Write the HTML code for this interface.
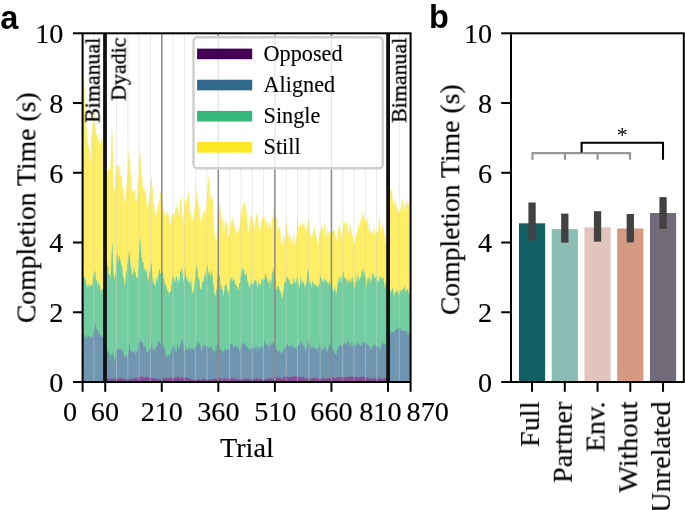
<!DOCTYPE html>
<html><head><meta charset="utf-8"><style>
html,body{margin:0;padding:0;background:#fff;}
svg{display:block;} text{will-change:transform;}
</style></head><body>
<svg width="685" height="510" viewBox="0 0 685 510">
<rect width="685" height="510" fill="#fff"/>
<g id="areas">
<path d="M82.60,382.00 L82.60,84.65 L83.10,83.10 L83.60,76.85 L84.09,76.28 L84.59,90.78 L85.09,112.23 L85.59,105.56 L86.08,123.17 L86.58,128.27 L87.08,133.54 L87.58,139.38 L88.07,142.51 L88.57,145.63 L89.07,149.97 L89.57,151.91 L90.07,153.81 L90.56,164.24 L91.06,144.52 L91.56,133.25 L92.06,133.78 L92.55,123.31 L93.05,124.55 L93.55,119.41 L94.05,110.58 L94.55,112.88 L95.04,126.24 L95.54,128.01 L96.04,134.22 L96.54,132.92 L97.03,135.63 L97.53,138.86 L98.03,140.18 L98.53,135.98 L99.03,144.81 L99.52,147.40 L100.02,143.57 L100.52,144.23 L101.02,131.57 L101.51,142.83 L102.01,138.26 L102.51,140.61 L103.01,146.76 L103.50,145.04 L104.00,147.68 L104.50,145.74 L104.50,382.00 L104.50,382.00 L104.50,173.50 L105.00,168.49 L105.50,172.86 L106.00,173.04 L106.50,175.84 L107.00,171.80 L107.50,172.79 L108.00,167.01 L108.50,170.80 L109.00,169.81 L109.50,167.08 L110.00,171.16 L110.50,167.38 L111.00,155.15 L111.50,132.30 L112.00,127.06 L112.50,134.32 L113.00,159.32 L113.50,181.87 L114.00,192.53 L114.50,188.69 L115.00,187.40 L115.50,175.06 L116.00,174.21 L116.50,164.92 L117.00,166.62 L117.50,163.35 L118.00,167.77 L118.50,165.68 L119.00,161.92 L119.50,169.22 L120.00,174.16 L120.50,175.51 L121.00,175.12 L121.50,175.09 L122.00,178.82 L122.50,188.46 L123.00,188.34 L123.50,190.02 L124.00,199.87 L124.50,201.56 L125.00,200.57 L125.50,195.82 L126.00,192.24 L126.50,187.24 L127.00,175.46 L127.50,174.27 L128.00,161.25 L128.50,152.63 L129.00,148.89 L129.50,158.69 L130.00,158.39 L130.50,173.07 L131.00,174.81 L131.50,180.72 L132.00,192.81 L132.50,190.26 L133.00,190.95 L133.50,189.91 L134.00,191.40 L134.50,188.13 L135.00,193.35 L135.50,197.86 L136.00,199.98 L136.50,202.62 L137.00,197.39 L137.50,192.69 L138.00,179.27 L138.50,179.41 L139.00,156.26 L139.50,160.14 L140.00,153.45 L140.50,154.47 L141.00,166.33 L141.50,177.65 L142.00,173.33 L142.50,184.01 L143.00,187.28 L143.50,187.30 L144.00,190.49 L144.50,188.98 L145.00,190.32 L145.50,193.33 L146.00,193.38 L146.50,197.94 L147.00,206.98 L147.50,205.28 L148.00,207.13 L148.50,201.71 L149.00,203.49 L149.50,193.02 L150.00,195.71 L150.50,182.83 L151.00,177.04 L151.50,177.28 L152.00,182.27 L152.50,188.10 L153.00,194.09 L153.50,204.40 L154.00,204.02 L154.50,211.95 L155.00,206.49 L155.50,213.91 L156.00,213.61 L156.50,217.05 L157.00,208.51 L157.50,210.49 L158.00,206.38 L158.50,203.42 L159.00,199.55 L159.50,202.09 L160.00,193.08 L160.50,192.99 L161.00,190.96 L161.50,191.39 L162.00,198.21 L162.50,207.74 L163.00,209.87 L163.50,205.94 L164.00,211.48 L164.50,212.50 L165.00,214.72 L165.50,214.94 L166.00,211.59 L166.50,217.12 L167.00,209.79 L167.50,211.83 L168.00,214.80 L168.50,214.75 L169.00,215.21 L169.50,221.31 L170.00,223.56 L170.50,224.23 L171.00,221.07 L171.50,213.41 L172.00,217.83 L172.50,213.06 L173.00,214.36 L173.50,213.57 L174.00,219.77 L174.50,212.66 L175.00,211.62 L175.50,207.11 L176.00,209.23 L176.50,205.59 L177.00,202.84 L177.50,209.16 L178.00,206.83 L178.50,216.83 L179.00,215.66 L179.50,212.94 L180.00,198.56 L180.50,198.44 L181.00,198.04 L181.50,201.38 L182.00,211.31 L182.50,217.86 L183.00,225.47 L183.50,215.54 L184.00,210.88 L184.50,197.60 L185.00,198.23 L185.50,203.16 L186.00,203.66 L186.50,199.12 L187.00,199.99 L187.50,196.43 L188.00,190.65 L188.50,191.26 L189.00,198.19 L189.50,200.64 L190.00,210.17 L190.50,214.83 L191.00,212.22 L191.50,218.73 L192.00,222.01 L192.50,218.35 L193.00,219.33 L193.50,217.42 L194.00,214.96 L194.50,208.39 L195.00,208.57 L195.50,202.53 L196.00,198.35 L196.50,192.25 L197.00,189.40 L197.50,195.95 L198.00,201.88 L198.50,206.63 L199.00,204.97 L199.50,205.47 L200.00,217.48 L200.50,219.33 L201.00,224.70 L201.50,226.84 L202.00,218.69 L202.50,215.24 L203.00,214.04 L203.50,212.56 L204.00,208.05 L204.50,211.64 L205.00,209.86 L205.50,214.32 L206.00,214.78 L206.50,203.88 L207.00,196.03 L207.50,189.06 L208.00,179.15 L208.50,174.28 L209.00,180.32 L209.50,186.44 L210.00,187.92 L210.50,198.99 L211.00,197.79 L211.50,196.24 L212.00,193.18 L212.50,199.09 L213.00,203.85 L213.50,213.36 L214.00,222.79 L214.50,231.19 L215.00,241.27 L215.50,236.43 L216.00,237.07 L216.50,241.01 L217.00,229.42 L217.50,214.33 L218.00,203.98 L218.50,208.25 L219.00,204.94 L219.50,207.47 L220.00,203.16 L220.50,210.57 L221.00,213.77 L221.50,217.09 L222.00,218.42 L222.50,219.93 L223.00,219.23 L223.50,227.22 L224.00,232.03 L224.50,227.26 L225.00,224.23 L225.50,222.05 L226.00,219.66 L226.50,223.11 L227.00,221.32 L227.50,227.09 L228.00,236.33 L228.50,236.41 L229.00,233.05 L229.50,239.24 L230.00,228.69 L230.50,223.32 L231.00,222.01 L231.50,219.13 L232.00,219.89 L232.50,216.37 L233.00,219.76 L233.50,221.88 L234.00,224.36 L234.50,225.56 L235.00,227.99 L235.50,231.03 L236.00,226.84 L236.50,235.26 L237.00,232.48 L237.50,231.36 L238.00,231.83 L238.50,231.00 L239.00,227.13 L239.50,227.59 L240.00,223.96 L240.50,213.95 L241.00,208.91 L241.50,212.52 L242.00,219.54 L242.50,204.60 L243.00,205.68 L243.50,203.88 L244.00,207.13 L244.50,201.26 L245.00,202.08 L245.50,215.91 L246.00,205.78 L246.50,210.88 L247.00,219.50 L247.50,224.76 L248.00,230.24 L248.50,229.58 L249.00,233.30 L249.50,221.27 L250.00,221.80 L250.50,214.45 L251.00,217.78 L251.50,212.22 L252.00,217.85 L252.50,218.63 L253.00,222.97 L253.50,223.41 L254.00,219.03 L254.50,232.43 L255.00,223.12 L255.50,221.77 L256.00,214.16 L256.50,213.26 L257.00,215.44 L257.50,217.52 L258.00,217.66 L258.50,225.88 L259.00,224.74 L259.50,227.60 L260.00,233.90 L260.50,228.01 L261.00,222.89 L261.50,223.35 L262.00,218.52 L262.50,217.61 L263.00,216.11 L263.50,218.97 L264.00,221.07 L264.50,219.18 L265.00,216.36 L265.50,217.96 L266.00,223.02 L266.50,221.52 L267.00,222.86 L267.50,221.44 L268.00,231.04 L268.50,227.68 L269.00,220.11 L269.50,227.25 L270.00,220.81 L270.50,225.44 L271.00,227.10 L271.50,229.15 L272.00,217.49 L272.50,219.00 L273.00,215.65 L273.50,205.69 L274.00,207.55 L274.50,210.66 L275.00,215.65 L275.50,215.07 L276.00,216.83 L276.50,217.75 L277.00,221.69 L277.50,227.58 L278.00,228.33 L278.50,228.29 L279.00,225.24 L279.50,225.30 L280.00,232.01 L280.50,230.50 L281.00,241.56 L281.50,242.34 L282.00,243.77 L282.50,245.96 L283.00,235.21 L283.50,236.28 L284.00,233.41 L284.50,244.34 L285.00,234.16 L285.50,230.01 L286.00,220.70 L286.50,223.17 L287.00,224.81 L287.50,229.30 L288.00,238.66 L288.50,233.65 L289.00,233.01 L289.50,234.59 L290.00,238.47 L290.50,237.52 L291.00,241.22 L291.50,239.28 L292.00,242.46 L292.50,242.89 L293.00,234.11 L293.50,237.66 L294.00,230.45 L294.50,247.10 L295.00,243.36 L295.50,240.59 L296.00,239.89 L296.50,235.25 L297.00,231.65 L297.50,221.34 L298.00,224.35 L298.50,225.40 L299.00,230.72 L299.50,219.46 L300.00,223.98 L300.50,224.48 L301.00,226.00 L301.50,223.40 L302.00,228.38 L302.50,223.61 L303.00,220.86 L303.50,225.85 L304.00,221.63 L304.50,224.58 L305.00,228.04 L305.50,229.35 L306.00,230.06 L306.50,230.49 L307.00,226.71 L307.50,225.48 L308.00,222.92 L308.50,217.39 L309.00,219.27 L309.50,224.40 L310.00,231.51 L310.50,233.94 L311.00,238.45 L311.50,238.78 L312.00,236.32 L312.50,235.16 L313.00,230.79 L313.50,227.78 L314.00,228.95 L314.50,226.26 L315.00,231.49 L315.50,232.72 L316.00,234.06 L316.50,239.46 L317.00,236.04 L317.50,244.47 L318.00,246.57 L318.50,239.88 L319.00,235.58 L319.50,234.24 L320.00,232.36 L320.50,230.01 L321.00,228.21 L321.50,225.33 L322.00,226.43 L322.50,228.05 L323.00,230.54 L323.50,243.03 L324.00,225.07 L324.50,222.65 L325.00,226.16 L325.50,231.16 L326.00,238.72 L326.50,235.55 L327.00,230.04 L327.50,228.59 L328.00,233.87 L328.50,231.06 L329.00,233.02 L329.50,228.59 L330.00,236.89 L330.50,231.80 L331.00,231.80 L331.50,228.81 L332.00,230.05 L332.50,232.40 L333.00,231.91 L333.50,228.88 L334.00,230.24 L334.50,230.17 L335.00,232.17 L335.50,235.52 L336.00,235.67 L336.50,239.12 L337.00,242.25 L337.50,237.54 L338.00,225.58 L338.50,228.94 L339.00,228.34 L339.50,224.33 L340.00,222.34 L340.50,231.50 L341.00,232.30 L341.50,236.63 L342.00,237.19 L342.50,238.65 L343.00,229.04 L343.50,223.05 L344.00,220.89 L344.50,222.43 L345.00,220.67 L345.50,228.73 L346.00,221.66 L346.50,221.79 L347.00,225.62 L347.50,226.83 L348.00,232.74 L348.50,232.93 L349.00,230.41 L349.50,225.98 L350.00,224.67 L350.50,226.10 L351.00,230.31 L351.50,230.48 L352.00,236.74 L352.50,235.46 L353.00,237.36 L353.50,240.72 L354.00,243.02 L354.50,243.07 L355.00,241.34 L355.50,239.11 L356.00,235.94 L356.50,231.59 L357.00,233.08 L357.50,232.85 L358.00,227.19 L358.50,225.27 L359.00,224.22 L359.50,224.36 L360.00,230.50 L360.50,217.29 L361.00,221.23 L361.50,220.49 L362.00,220.69 L362.50,210.27 L363.00,216.00 L363.50,214.12 L364.00,215.72 L364.50,220.38 L365.00,218.59 L365.50,223.92 L366.00,221.94 L366.50,218.85 L367.00,218.37 L367.50,217.36 L368.00,228.00 L368.50,229.97 L369.00,225.77 L369.50,217.96 L370.00,228.51 L370.50,232.54 L371.00,234.13 L371.50,228.01 L372.00,233.95 L372.50,234.85 L373.00,231.08 L373.50,230.97 L374.00,222.10 L374.50,229.55 L375.00,231.61 L375.50,237.29 L376.00,231.47 L376.50,234.23 L377.00,233.23 L377.50,230.62 L378.00,233.15 L378.50,225.20 L379.00,220.96 L379.50,220.72 L380.00,213.33 L380.50,227.50 L381.00,232.64 L381.50,229.53 L382.00,229.30 L382.50,224.82 L383.00,225.53 L383.50,225.44 L384.00,230.42 L384.50,235.09 L385.00,239.34 L385.50,241.75 L386.00,246.38 L386.50,240.68 L387.00,245.61 L387.00,382.00 L387.00,382.00 L387.00,189.51 L387.50,191.19 L388.00,187.84 L388.51,176.86 L389.01,190.08 L389.51,186.46 L390.01,185.35 L390.51,191.09 L391.02,190.97 L391.52,188.94 L392.02,191.00 L392.52,200.54 L393.03,197.72 L393.53,203.65 L394.03,201.13 L394.53,206.18 L395.03,200.41 L395.54,203.51 L396.04,198.29 L396.54,206.62 L397.04,211.14 L397.54,206.53 L398.05,210.17 L398.55,213.71 L399.05,213.03 L399.55,211.90 L400.06,211.42 L400.56,207.19 L401.06,206.99 L401.56,199.53 L402.06,199.04 L402.57,199.66 L403.07,203.79 L403.57,205.03 L404.07,210.37 L404.57,208.67 L405.08,205.19 L405.58,197.34 L406.08,208.11 L406.58,201.72 L407.09,199.38 L407.59,203.83 L408.09,202.13 L408.59,203.97 L409.09,205.96 L409.60,201.81 L410.10,199.78 L410.60,198.89 L410.60,382.00Z" fill="#feee66"/>
<path d="M82.60,382.00 L82.60,276.83 L83.10,278.44 L83.60,278.63 L84.09,277.70 L84.59,276.08 L85.09,279.97 L85.59,279.15 L86.08,282.19 L86.58,285.94 L87.08,283.79 L87.58,287.14 L88.07,287.88 L88.57,283.67 L89.07,283.57 L89.57,287.45 L90.07,284.98 L90.56,287.16 L91.06,282.64 L91.56,286.61 L92.06,286.40 L92.55,284.34 L93.05,272.43 L93.55,277.28 L94.05,273.56 L94.55,272.19 L95.04,269.73 L95.54,274.59 L96.04,279.70 L96.54,279.48 L97.03,280.97 L97.53,287.38 L98.03,283.00 L98.53,280.54 L99.03,285.34 L99.52,284.73 L100.02,284.64 L100.52,288.92 L101.02,293.68 L101.51,290.09 L102.01,290.07 L102.51,288.42 L103.01,289.34 L103.50,290.24 L104.00,289.36 L104.50,290.58 L104.50,382.00 L104.50,382.00 L104.50,265.18 L105.00,262.43 L105.50,263.31 L106.00,261.97 L106.50,260.93 L107.00,264.06 L107.50,266.11 L108.00,265.60 L108.50,271.39 L109.00,274.65 L109.50,274.86 L110.00,275.82 L110.50,278.00 L111.00,266.88 L111.50,255.75 L112.00,248.37 L112.50,239.98 L113.00,259.70 L113.50,274.57 L114.00,274.04 L114.50,280.95 L115.00,277.11 L115.50,275.56 L116.00,270.77 L116.50,257.64 L117.00,254.95 L117.50,253.12 L118.00,257.20 L118.50,263.02 L119.00,256.39 L119.50,255.95 L120.00,256.84 L120.50,260.38 L121.00,264.86 L121.50,265.56 L122.00,265.38 L122.50,268.67 L123.00,277.65 L123.50,277.43 L124.00,278.03 L124.50,286.38 L125.00,282.17 L125.50,281.10 L126.00,270.19 L126.50,275.20 L127.00,266.49 L127.50,263.74 L128.00,260.06 L128.50,256.19 L129.00,251.37 L129.50,251.88 L130.00,259.47 L130.50,262.97 L131.00,268.14 L131.50,270.04 L132.00,274.97 L132.50,274.64 L133.00,273.90 L133.50,270.96 L134.00,265.73 L134.50,270.10 L135.00,272.51 L135.50,272.11 L136.00,275.81 L136.50,279.43 L137.00,276.49 L137.50,277.98 L138.00,277.15 L138.50,263.59 L139.00,253.73 L139.50,242.62 L140.00,237.06 L140.50,241.46 L141.00,249.22 L141.50,259.45 L142.00,256.87 L142.50,261.84 L143.00,262.76 L143.50,262.46 L144.00,271.30 L144.50,268.85 L145.00,267.34 L145.50,273.75 L146.00,269.27 L146.50,270.12 L147.00,273.69 L147.50,280.89 L148.00,275.70 L148.50,282.13 L149.00,277.18 L149.50,271.03 L150.00,271.93 L150.50,266.93 L151.00,262.70 L151.50,263.34 L152.00,269.38 L152.50,283.82 L153.00,276.16 L153.50,282.93 L154.00,284.07 L154.50,284.51 L155.00,284.39 L155.50,287.50 L156.00,278.36 L156.50,278.59 L157.00,281.76 L157.50,281.17 L158.00,274.26 L158.50,275.73 L159.00,269.13 L159.50,268.39 L160.00,272.56 L160.50,273.70 L161.00,272.92 L161.50,271.98 L162.00,272.28 L162.50,271.67 L163.00,271.58 L163.50,277.86 L164.00,279.17 L164.50,281.93 L165.00,285.06 L165.50,283.85 L166.00,285.16 L166.50,286.74 L167.00,288.17 L167.50,291.55 L168.00,291.11 L168.50,292.17 L169.00,294.76 L169.50,292.93 L170.00,290.97 L170.50,292.62 L171.00,289.93 L171.50,284.75 L172.00,283.37 L172.50,275.87 L173.00,277.65 L173.50,275.89 L174.00,277.86 L174.50,281.82 L175.00,282.85 L175.50,280.49 L176.00,275.88 L176.50,276.50 L177.00,275.67 L177.50,286.72 L178.00,280.29 L178.50,279.70 L179.00,278.33 L179.50,285.16 L180.00,273.06 L180.50,270.15 L181.00,272.25 L181.50,269.78 L182.00,265.14 L182.50,273.13 L183.00,278.21 L183.50,283.48 L184.00,279.31 L184.50,276.66 L185.00,266.69 L185.50,269.74 L186.00,277.03 L186.50,276.27 L187.00,280.54 L187.50,281.91 L188.00,279.27 L188.50,277.87 L189.00,285.86 L189.50,282.36 L190.00,281.09 L190.50,283.52 L191.00,277.44 L191.50,284.94 L192.00,292.44 L192.50,292.71 L193.00,292.15 L193.50,290.35 L194.00,288.85 L194.50,281.14 L195.00,281.05 L195.50,273.13 L196.00,270.54 L196.50,268.11 L197.00,263.45 L197.50,268.62 L198.00,277.81 L198.50,277.49 L199.00,279.75 L199.50,279.75 L200.00,286.52 L200.50,288.20 L201.00,290.08 L201.50,289.49 L202.00,283.19 L202.50,281.69 L203.00,280.22 L203.50,281.92 L204.00,277.67 L204.50,274.55 L205.00,274.74 L205.50,271.20 L206.00,280.71 L206.50,269.86 L207.00,266.13 L207.50,264.40 L208.00,268.19 L208.50,272.89 L209.00,274.43 L209.50,273.34 L210.00,271.10 L210.50,275.69 L211.00,276.93 L211.50,268.47 L212.00,272.88 L212.50,275.64 L213.00,280.67 L213.50,287.37 L214.00,286.24 L214.50,294.99 L215.00,294.64 L215.50,296.17 L216.00,291.33 L216.50,289.67 L217.00,285.22 L217.50,276.92 L218.00,271.86 L218.50,276.04 L219.00,275.09 L219.50,274.90 L220.00,276.25 L220.50,289.29 L221.00,285.15 L221.50,283.37 L222.00,288.96 L222.50,290.00 L223.00,290.81 L223.50,296.05 L224.00,294.33 L224.50,286.47 L225.00,285.16 L225.50,285.25 L226.00,285.97 L226.50,283.08 L227.00,287.42 L227.50,290.43 L228.00,291.39 L228.50,297.04 L229.00,288.38 L229.50,289.41 L230.00,281.06 L230.50,276.68 L231.00,281.74 L231.50,278.09 L232.00,275.57 L232.50,280.17 L233.00,281.77 L233.50,278.09 L234.00,281.31 L234.50,277.52 L235.00,283.94 L235.50,284.01 L236.00,285.22 L236.50,285.34 L237.00,287.90 L237.50,286.49 L238.00,290.30 L238.50,290.44 L239.00,284.82 L239.50,283.12 L240.00,282.61 L240.50,276.75 L241.00,276.47 L241.50,271.16 L242.00,271.13 L242.50,267.50 L243.00,268.36 L243.50,272.17 L244.00,266.42 L244.50,274.27 L245.00,275.26 L245.50,274.69 L246.00,274.01 L246.50,272.62 L247.00,277.46 L247.50,281.67 L248.00,281.03 L248.50,284.17 L249.00,287.52 L249.50,288.33 L250.00,285.03 L250.50,283.76 L251.00,280.07 L251.50,286.28 L252.00,280.61 L252.50,285.05 L253.00,285.81 L253.50,283.89 L254.00,282.51 L254.50,279.92 L255.00,280.56 L255.50,280.49 L256.00,280.45 L256.50,281.86 L257.00,286.63 L257.50,288.40 L258.00,283.26 L258.50,279.41 L259.00,284.65 L259.50,283.67 L260.00,284.41 L260.50,286.09 L261.00,283.41 L261.50,281.35 L262.00,278.01 L262.50,280.04 L263.00,278.77 L263.50,279.65 L264.00,279.66 L264.50,280.07 L265.00,273.52 L265.50,274.66 L266.00,274.07 L266.50,278.72 L267.00,277.04 L267.50,279.07 L268.00,283.05 L268.50,283.00 L269.00,280.04 L269.50,281.00 L270.00,290.30 L270.50,278.63 L271.00,280.89 L271.50,284.29 L272.00,272.40 L272.50,272.91 L273.00,269.43 L273.50,266.80 L274.00,272.87 L274.50,276.51 L275.00,278.59 L275.50,279.69 L276.00,286.79 L276.50,289.58 L277.00,289.40 L277.50,285.68 L278.00,286.72 L278.50,285.77 L279.00,286.32 L279.50,290.76 L280.00,290.10 L280.50,292.55 L281.00,292.06 L281.50,296.86 L282.00,299.98 L282.50,296.75 L283.00,290.32 L283.50,294.19 L284.00,284.65 L284.50,282.71 L285.00,282.00 L285.50,283.02 L286.00,277.36 L286.50,276.73 L287.00,276.16 L287.50,277.20 L288.00,281.43 L288.50,278.99 L289.00,278.98 L289.50,279.19 L290.00,284.97 L290.50,282.83 L291.00,285.58 L291.50,283.09 L292.00,285.60 L292.50,284.66 L293.00,274.95 L293.50,286.43 L294.00,278.88 L294.50,277.65 L295.00,283.30 L295.50,281.79 L296.00,284.02 L296.50,279.22 L297.00,277.44 L297.50,275.35 L298.00,279.52 L298.50,283.83 L299.00,288.53 L299.50,284.66 L300.00,284.24 L300.50,275.07 L301.00,280.93 L301.50,285.42 L302.00,278.33 L302.50,282.72 L303.00,281.70 L303.50,281.49 L304.00,285.07 L304.50,284.07 L305.00,289.78 L305.50,286.22 L306.00,283.60 L306.50,282.63 L307.00,276.68 L307.50,270.66 L308.00,270.43 L308.50,268.69 L309.00,275.11 L309.50,281.43 L310.00,284.38 L310.50,280.59 L311.00,284.76 L311.50,289.25 L312.00,282.33 L312.50,282.81 L313.00,279.05 L313.50,284.48 L314.00,282.77 L314.50,285.54 L315.00,285.12 L315.50,286.61 L316.00,281.32 L316.50,286.93 L317.00,285.36 L317.50,286.84 L318.00,286.94 L318.50,285.96 L319.00,284.06 L319.50,284.87 L320.00,273.96 L320.50,277.28 L321.00,277.04 L321.50,279.16 L322.00,279.23 L322.50,280.71 L323.00,283.52 L323.50,282.41 L324.00,279.82 L324.50,276.75 L325.00,279.36 L325.50,282.89 L326.00,281.80 L326.50,278.61 L327.00,282.38 L327.50,282.15 L328.00,282.91 L328.50,282.86 L329.00,286.17 L329.50,281.22 L330.00,281.22 L330.50,282.71 L331.00,285.75 L331.50,285.31 L332.00,286.33 L332.50,290.15 L333.00,290.44 L333.50,294.52 L334.00,288.08 L334.50,285.70 L335.00,289.96 L335.50,289.06 L336.00,293.76 L336.50,292.95 L337.00,289.20 L337.50,282.85 L338.00,284.28 L338.50,276.99 L339.00,282.53 L339.50,277.98 L340.00,276.69 L340.50,277.17 L341.00,283.94 L341.50,281.51 L342.00,276.68 L342.50,276.49 L343.00,272.75 L343.50,271.06 L344.00,273.28 L344.50,278.01 L345.00,278.84 L345.50,277.24 L346.00,279.42 L346.50,279.81 L347.00,286.72 L347.50,277.12 L348.00,279.77 L348.50,282.38 L349.00,278.91 L349.50,279.17 L350.00,281.44 L350.50,281.45 L351.00,285.28 L351.50,278.03 L352.00,278.57 L352.50,276.07 L353.00,281.77 L353.50,281.66 L354.00,287.04 L354.50,287.23 L355.00,287.43 L355.50,282.13 L356.00,271.34 L356.50,280.56 L357.00,283.78 L357.50,279.04 L358.00,273.19 L358.50,277.68 L359.00,279.85 L359.50,281.45 L360.00,277.09 L360.50,277.66 L361.00,276.75 L361.50,273.32 L362.00,269.86 L362.50,272.35 L363.00,267.84 L363.50,268.31 L364.00,277.90 L364.50,271.67 L365.00,273.16 L365.50,278.56 L366.00,275.41 L366.50,289.51 L367.00,282.59 L367.50,279.35 L368.00,278.50 L368.50,276.21 L369.00,281.21 L369.50,277.49 L370.00,273.32 L370.50,283.68 L371.00,280.89 L371.50,279.59 L372.00,278.30 L372.50,271.42 L373.00,273.43 L373.50,277.01 L374.00,273.82 L374.50,277.81 L375.00,278.55 L375.50,277.77 L376.00,277.25 L376.50,274.98 L377.00,279.97 L377.50,286.15 L378.00,280.47 L378.50,281.65 L379.00,276.32 L379.50,282.49 L380.00,275.78 L380.50,276.95 L381.00,277.14 L381.50,277.64 L382.00,279.88 L382.50,277.59 L383.00,277.93 L383.50,277.38 L384.00,283.55 L384.50,289.61 L385.00,279.57 L385.50,286.33 L386.00,282.88 L386.50,284.18 L387.00,284.08 L387.00,382.00 L387.00,382.00 L387.00,291.44 L387.50,297.65 L388.00,291.97 L388.51,290.85 L389.01,292.30 L389.51,291.32 L390.01,291.28 L390.51,291.53 L391.02,292.44 L391.52,290.31 L392.02,288.89 L392.52,287.02 L393.03,290.59 L393.53,291.63 L394.03,296.16 L394.53,295.62 L395.03,291.92 L395.54,291.97 L396.04,293.23 L396.54,289.01 L397.04,290.60 L397.54,291.04 L398.05,292.59 L398.55,296.11 L399.05,289.49 L399.55,296.05 L400.06,291.37 L400.56,291.31 L401.06,289.57 L401.56,291.62 L402.06,288.90 L402.57,290.83 L403.07,288.61 L403.57,289.30 L404.07,289.62 L404.57,287.03 L405.08,285.55 L405.58,291.14 L406.08,291.52 L406.58,290.26 L407.09,288.51 L407.59,289.91 L408.09,287.74 L408.59,292.94 L409.09,293.69 L409.60,293.39 L410.10,292.28 L410.60,290.65 L410.60,382.00Z" fill="#72cda1"/>
<path d="M82.60,382.00 L82.60,336.76 L83.10,335.88 L83.60,336.80 L84.09,335.51 L84.59,333.87 L85.09,336.66 L85.59,337.38 L86.08,339.85 L86.58,339.25 L87.08,334.26 L87.58,337.70 L88.07,335.55 L88.57,336.69 L89.07,335.72 L89.57,335.82 L90.07,336.67 L90.56,337.09 L91.06,337.95 L91.56,337.89 L92.06,337.01 L92.55,335.09 L93.05,334.96 L93.55,331.92 L94.05,330.26 L94.55,327.41 L95.04,325.60 L95.54,322.63 L96.04,328.36 L96.54,328.78 L97.03,330.52 L97.53,328.94 L98.03,332.38 L98.53,334.42 L99.03,332.98 L99.52,332.40 L100.02,335.71 L100.52,334.36 L101.02,338.52 L101.51,335.26 L102.01,337.10 L102.51,337.65 L103.01,335.91 L103.50,337.26 L104.00,337.16 L104.50,338.71 L104.50,382.00 L104.50,382.00 L104.50,354.58 L105.00,349.59 L105.50,351.11 L106.00,348.38 L106.50,350.38 L107.00,350.13 L107.50,349.77 L108.00,352.64 L108.50,353.22 L109.00,351.72 L109.50,353.74 L110.00,356.76 L110.50,361.83 L111.00,355.22 L111.50,354.38 L112.00,354.80 L112.50,351.97 L113.00,354.31 L113.50,355.57 L114.00,358.25 L114.50,360.54 L115.00,362.12 L115.50,357.18 L116.00,355.04 L116.50,347.98 L117.00,349.18 L117.50,346.88 L118.00,349.52 L118.50,348.73 L119.00,350.39 L119.50,348.94 L120.00,347.92 L120.50,348.05 L121.00,350.30 L121.50,352.52 L122.00,350.76 L122.50,350.15 L123.00,352.63 L123.50,352.44 L124.00,355.24 L124.50,355.95 L125.00,357.83 L125.50,356.80 L126.00,356.14 L126.50,354.78 L127.00,357.69 L127.50,357.48 L128.00,353.97 L128.50,350.14 L129.00,347.57 L129.50,342.24 L130.00,346.89 L130.50,349.85 L131.00,350.56 L131.50,351.22 L132.00,350.97 L132.50,352.58 L133.00,352.21 L133.50,352.38 L134.00,352.84 L134.50,350.23 L135.00,350.59 L135.50,356.10 L136.00,352.36 L136.50,353.67 L137.00,350.75 L137.50,350.45 L138.00,350.63 L138.50,342.39 L139.00,342.97 L139.50,341.47 L140.00,337.57 L140.50,338.69 L141.00,340.73 L141.50,342.59 L142.00,343.38 L142.50,342.50 L143.00,343.47 L143.50,343.93 L144.00,349.82 L144.50,344.96 L145.00,344.85 L145.50,348.90 L146.00,345.21 L146.50,351.95 L147.00,351.80 L147.50,352.11 L148.00,351.78 L148.50,351.10 L149.00,350.63 L149.50,348.90 L150.00,348.74 L150.50,347.24 L151.00,346.04 L151.50,339.90 L152.00,348.43 L152.50,347.68 L153.00,348.94 L153.50,350.64 L154.00,349.04 L154.50,347.26 L155.00,352.75 L155.50,348.80 L156.00,347.40 L156.50,345.65 L157.00,347.10 L157.50,345.50 L158.00,339.34 L158.50,343.25 L159.00,340.09 L159.50,342.28 L160.00,342.75 L160.50,343.61 L161.00,343.61 L161.50,344.47 L162.00,349.25 L162.50,345.85 L163.00,342.62 L163.50,346.07 L164.00,346.82 L164.50,347.46 L165.00,350.00 L165.50,352.03 L166.00,357.87 L166.50,356.42 L167.00,356.78 L167.50,355.52 L168.00,354.15 L168.50,355.13 L169.00,355.98 L169.50,355.81 L170.00,355.24 L170.50,355.42 L171.00,350.75 L171.50,350.18 L172.00,348.66 L172.50,347.05 L173.00,346.57 L173.50,346.53 L174.00,343.42 L174.50,346.92 L175.00,350.42 L175.50,349.78 L176.00,350.05 L176.50,353.27 L177.00,347.95 L177.50,343.74 L178.00,346.37 L178.50,348.44 L179.00,349.97 L179.50,348.14 L180.00,346.24 L180.50,344.08 L181.00,342.74 L181.50,341.83 L182.00,339.74 L182.50,340.55 L183.00,338.31 L183.50,347.45 L184.00,352.53 L184.50,349.82 L185.00,352.98 L185.50,344.82 L186.00,347.77 L186.50,350.14 L187.00,350.00 L187.50,346.94 L188.00,349.22 L188.50,349.66 L189.00,349.22 L189.50,347.87 L190.00,346.29 L190.50,351.12 L191.00,347.78 L191.50,348.89 L192.00,349.09 L192.50,347.51 L193.00,349.69 L193.50,348.74 L194.00,350.87 L194.50,349.07 L195.00,348.13 L195.50,345.94 L196.00,345.39 L196.50,346.38 L197.00,340.39 L197.50,342.24 L198.00,345.30 L198.50,344.02 L199.00,343.33 L199.50,342.20 L200.00,344.77 L200.50,345.82 L201.00,350.67 L201.50,351.23 L202.00,349.84 L202.50,345.14 L203.00,348.97 L203.50,344.51 L204.00,344.78 L204.50,345.74 L205.00,345.12 L205.50,346.06 L206.00,345.26 L206.50,347.62 L207.00,346.49 L207.50,345.94 L208.00,346.86 L208.50,346.69 L209.00,348.67 L209.50,349.59 L210.00,346.69 L210.50,346.38 L211.00,346.96 L211.50,346.90 L212.00,350.10 L212.50,349.74 L213.00,350.83 L213.50,350.02 L214.00,351.66 L214.50,351.92 L215.00,352.83 L215.50,346.43 L216.00,351.92 L216.50,347.21 L217.00,343.06 L217.50,344.68 L218.00,344.58 L218.50,345.76 L219.00,340.14 L219.50,345.68 L220.00,349.50 L220.50,350.01 L221.00,349.75 L221.50,350.47 L222.00,349.90 L222.50,353.23 L223.00,352.93 L223.50,351.71 L224.00,349.70 L224.50,349.54 L225.00,350.02 L225.50,349.69 L226.00,347.39 L226.50,349.84 L227.00,350.13 L227.50,349.73 L228.00,350.07 L228.50,349.71 L229.00,349.71 L229.50,348.92 L230.00,346.19 L230.50,342.64 L231.00,343.80 L231.50,343.37 L232.00,343.89 L232.50,345.39 L233.00,346.27 L233.50,347.60 L234.00,347.60 L234.50,346.54 L235.00,346.42 L235.50,344.13 L236.00,347.29 L236.50,346.81 L237.00,347.72 L237.50,347.08 L238.00,348.94 L238.50,345.46 L239.00,350.35 L239.50,351.06 L240.00,351.52 L240.50,346.74 L241.00,346.86 L241.50,345.84 L242.00,341.05 L242.50,343.19 L243.00,343.61 L243.50,344.17 L244.00,342.74 L244.50,344.04 L245.00,344.12 L245.50,345.93 L246.00,346.41 L246.50,347.22 L247.00,345.88 L247.50,347.62 L248.00,348.41 L248.50,349.35 L249.00,347.07 L249.50,352.64 L250.00,349.68 L250.50,348.36 L251.00,348.63 L251.50,348.55 L252.00,348.23 L252.50,347.17 L253.00,347.43 L253.50,347.99 L254.00,349.55 L254.50,348.33 L255.00,345.24 L255.50,348.56 L256.00,348.00 L256.50,344.92 L257.00,353.75 L257.50,348.32 L258.00,348.27 L258.50,347.14 L259.00,345.05 L259.50,350.29 L260.00,351.02 L260.50,346.68 L261.00,347.24 L261.50,346.63 L262.00,346.11 L262.50,348.50 L263.00,349.56 L263.50,347.23 L264.00,344.65 L264.50,337.63 L265.00,341.69 L265.50,343.50 L266.00,344.91 L266.50,344.50 L267.00,345.22 L267.50,347.35 L268.00,342.24 L268.50,345.51 L269.00,345.77 L269.50,351.62 L270.00,344.88 L270.50,342.53 L271.00,344.97 L271.50,345.32 L272.00,343.03 L272.50,344.92 L273.00,340.73 L273.50,342.51 L274.00,341.30 L274.50,345.47 L275.00,343.87 L275.50,347.54 L276.00,349.91 L276.50,349.06 L277.00,348.80 L277.50,352.22 L278.00,352.18 L278.50,351.10 L279.00,351.17 L279.50,349.79 L280.00,350.85 L280.50,351.79 L281.00,352.68 L281.50,353.53 L282.00,352.88 L282.50,352.29 L283.00,350.78 L283.50,349.51 L284.00,351.00 L284.50,347.59 L285.00,347.87 L285.50,347.70 L286.00,345.67 L286.50,343.97 L287.00,344.36 L287.50,344.57 L288.00,344.95 L288.50,348.24 L289.00,346.27 L289.50,344.68 L290.00,345.33 L290.50,345.93 L291.00,345.92 L291.50,349.84 L292.00,344.17 L292.50,345.40 L293.00,347.00 L293.50,346.75 L294.00,345.76 L294.50,349.64 L295.00,347.58 L295.50,348.94 L296.00,346.93 L296.50,351.20 L297.00,347.42 L297.50,346.74 L298.00,344.82 L298.50,344.88 L299.00,345.45 L299.50,345.99 L300.00,344.23 L300.50,341.20 L301.00,344.07 L301.50,341.61 L302.00,348.35 L302.50,340.75 L303.00,346.27 L303.50,346.45 L304.00,343.80 L304.50,349.10 L305.00,347.20 L305.50,352.15 L306.00,350.56 L306.50,346.88 L307.00,346.02 L307.50,343.26 L308.00,340.17 L308.50,340.81 L309.00,343.95 L309.50,343.96 L310.00,344.72 L310.50,347.90 L311.00,349.28 L311.50,346.74 L312.00,344.96 L312.50,348.89 L313.00,347.71 L313.50,346.36 L314.00,347.88 L314.50,347.43 L315.00,350.72 L315.50,348.56 L316.00,348.49 L316.50,347.20 L317.00,349.81 L317.50,354.17 L318.00,347.17 L318.50,347.09 L319.00,350.12 L319.50,340.21 L320.00,345.35 L320.50,348.36 L321.00,345.97 L321.50,351.41 L322.00,350.51 L322.50,347.67 L323.00,349.69 L323.50,349.24 L324.00,349.04 L324.50,347.12 L325.00,347.13 L325.50,347.84 L326.00,349.39 L326.50,350.05 L327.00,353.39 L327.50,352.15 L328.00,348.81 L328.50,348.73 L329.00,346.61 L329.50,344.43 L330.00,343.23 L330.50,347.22 L331.00,344.55 L331.50,346.49 L332.00,350.47 L332.50,348.38 L333.00,351.65 L333.50,348.95 L334.00,351.80 L334.50,352.38 L335.00,352.77 L335.50,355.33 L336.00,352.39 L336.50,355.80 L337.00,350.38 L337.50,350.21 L338.00,348.10 L338.50,345.80 L339.00,346.33 L339.50,345.64 L340.00,346.57 L340.50,341.87 L341.00,349.56 L341.50,345.82 L342.00,344.83 L342.50,345.70 L343.00,345.08 L343.50,343.75 L344.00,342.25 L344.50,342.50 L345.00,344.05 L345.50,342.57 L346.00,344.55 L346.50,344.76 L347.00,342.48 L347.50,343.43 L348.00,339.95 L348.50,341.23 L349.00,342.65 L349.50,343.59 L350.00,346.08 L350.50,345.16 L351.00,343.82 L351.50,340.66 L352.00,347.29 L352.50,346.09 L353.00,339.87 L353.50,346.49 L354.00,344.26 L354.50,342.89 L355.00,346.42 L355.50,345.03 L356.00,345.45 L356.50,345.62 L357.00,343.90 L357.50,340.48 L358.00,344.38 L358.50,343.34 L359.00,345.01 L359.50,342.84 L360.00,345.51 L360.50,346.98 L361.00,344.85 L361.50,344.88 L362.00,344.47 L362.50,339.01 L363.00,343.22 L363.50,343.18 L364.00,341.25 L364.50,343.92 L365.00,342.58 L365.50,342.79 L366.00,341.98 L366.50,342.78 L367.00,344.60 L367.50,344.12 L368.00,344.97 L368.50,344.99 L369.00,345.85 L369.50,348.40 L370.00,346.56 L370.50,348.38 L371.00,349.90 L371.50,346.19 L372.00,350.34 L372.50,345.71 L373.00,343.93 L373.50,345.60 L374.00,345.77 L374.50,344.72 L375.00,346.83 L375.50,342.68 L376.00,345.28 L376.50,346.31 L377.00,347.92 L377.50,346.22 L378.00,346.26 L378.50,346.50 L379.00,348.05 L379.50,349.03 L380.00,350.97 L380.50,348.60 L381.00,346.45 L381.50,346.42 L382.00,340.98 L382.50,344.37 L383.00,343.11 L383.50,344.19 L384.00,343.13 L384.50,344.21 L385.00,346.13 L385.50,341.54 L386.00,344.26 L386.50,344.94 L387.00,346.55 L387.00,382.00 L387.00,382.00 L387.00,331.22 L387.50,333.32 L388.00,331.09 L388.51,331.36 L389.01,332.14 L389.51,332.47 L390.01,333.80 L390.51,333.72 L391.02,330.95 L391.52,332.58 L392.02,331.99 L392.52,331.13 L393.03,332.35 L393.53,333.22 L394.03,331.02 L394.53,333.22 L395.03,328.90 L395.54,328.85 L396.04,330.82 L396.54,328.85 L397.04,329.33 L397.54,328.70 L398.05,326.75 L398.55,328.95 L399.05,328.66 L399.55,326.02 L400.06,326.64 L400.56,329.32 L401.06,331.04 L401.56,331.22 L402.06,330.18 L402.57,330.46 L403.07,330.91 L403.57,329.90 L404.07,331.38 L404.57,330.57 L405.08,330.29 L405.58,331.45 L406.08,329.18 L406.58,331.72 L407.09,332.43 L407.59,332.26 L408.09,335.63 L408.59,333.68 L409.09,332.23 L409.60,333.91 L410.10,331.79 L410.60,333.16 L410.60,382.00Z" fill="#6f95b0"/>
<path d="M104.50,382.00 L104.50,378.48 L105.00,378.89 L105.50,380.74 L106.00,379.12 L106.50,379.06 L107.00,379.60 L107.50,378.92 L108.00,379.86 L108.50,377.45 L109.00,378.95 L109.50,378.85 L110.00,379.12 L110.50,380.67 L111.00,377.60 L111.50,378.95 L112.00,379.24 L112.50,379.36 L113.00,379.42 L113.50,378.74 L114.00,378.34 L114.50,379.40 L115.00,377.83 L115.50,377.38 L116.00,378.01 L116.50,378.35 L117.00,379.50 L117.50,378.53 L118.00,378.18 L118.50,378.17 L119.00,378.48 L119.50,378.41 L120.00,378.08 L120.50,377.40 L121.00,377.88 L121.50,378.92 L122.00,378.68 L122.50,379.06 L123.00,377.23 L123.50,379.57 L124.00,378.55 L124.50,379.83 L125.00,378.92 L125.50,378.91 L126.00,379.47 L126.50,379.11 L127.00,379.24 L127.50,378.40 L128.00,379.23 L128.50,378.96 L129.00,378.13 L129.50,378.50 L130.00,379.28 L130.50,378.84 L131.00,379.53 L131.50,378.20 L132.00,376.87 L132.50,381.69 L133.00,378.43 L133.50,378.61 L134.00,378.01 L134.50,377.91 L135.00,378.18 L135.50,378.69 L136.00,376.66 L136.50,378.64 L137.00,380.13 L137.50,377.87 L138.00,377.51 L138.50,377.17 L139.00,376.93 L139.50,377.15 L140.00,377.99 L140.50,374.47 L141.00,377.82 L141.50,377.59 L142.00,375.53 L142.50,376.28 L143.00,377.78 L143.50,377.68 L144.00,377.20 L144.50,378.21 L145.00,377.01 L145.50,377.45 L146.00,376.75 L146.50,377.81 L147.00,376.67 L147.50,377.12 L148.00,378.17 L148.50,377.78 L149.00,378.04 L149.50,378.22 L150.00,378.04 L150.50,377.42 L151.00,378.27 L151.50,377.19 L152.00,377.71 L152.50,378.04 L153.00,377.31 L153.50,377.30 L154.00,378.43 L154.50,378.63 L155.00,378.13 L155.50,378.20 L156.00,377.88 L156.50,378.45 L157.00,378.56 L157.50,379.64 L158.00,377.12 L158.50,379.54 L159.00,380.87 L159.50,378.45 L160.00,379.04 L160.50,379.25 L161.00,378.82 L161.50,378.27 L162.00,378.70 L162.50,379.29 L163.00,377.59 L163.50,378.40 L164.00,376.63 L164.50,379.00 L165.00,378.76 L165.50,376.91 L166.00,378.60 L166.50,378.45 L167.00,377.36 L167.50,378.13 L168.00,378.33 L168.50,377.79 L169.00,377.98 L169.50,379.66 L170.00,378.08 L170.50,377.86 L171.00,376.67 L171.50,376.98 L172.00,378.42 L172.50,378.08 L173.00,378.29 L173.50,377.72 L174.00,377.67 L174.50,377.58 L175.00,377.86 L175.50,377.28 L176.00,377.52 L176.50,377.49 L177.00,377.76 L177.50,377.08 L178.00,375.87 L178.50,376.59 L179.00,377.00 L179.50,378.30 L180.00,377.92 L180.50,378.00 L181.00,377.55 L181.50,376.74 L182.00,377.60 L182.50,378.38 L183.00,377.67 L183.50,377.84 L184.00,377.52 L184.50,377.01 L185.00,377.87 L185.50,377.77 L186.00,377.67 L186.50,377.60 L187.00,378.34 L187.50,377.89 L188.00,378.33 L188.50,377.96 L189.00,378.82 L189.50,378.35 L190.00,378.58 L190.50,379.78 L191.00,379.10 L191.50,379.23 L192.00,378.74 L192.50,379.70 L193.00,378.99 L193.50,381.35 L194.00,380.21 L194.50,379.63 L195.00,380.12 L195.50,379.54 L196.00,379.82 L196.50,378.66 L197.00,381.57 L197.50,379.94 L198.00,378.69 L198.50,378.97 L199.00,379.46 L199.50,379.77 L200.00,378.65 L200.50,380.75 L201.00,379.09 L201.50,381.89 L202.00,379.66 L202.50,379.23 L203.00,379.05 L203.50,378.29 L204.00,378.22 L204.50,379.35 L205.00,379.61 L205.50,380.10 L206.00,378.96 L206.50,380.29 L207.00,378.81 L207.50,380.28 L208.00,380.10 L208.50,378.39 L209.00,379.76 L209.50,379.31 L210.00,379.29 L210.50,379.63 L211.00,379.02 L211.50,378.97 L212.00,378.78 L212.50,379.68 L213.00,379.84 L213.50,378.27 L214.00,379.34 L214.50,378.55 L215.00,378.31 L215.50,378.34 L216.00,378.94 L216.50,378.51 L217.00,378.42 L217.50,377.89 L218.00,378.56 L218.50,379.24 L219.00,377.00 L219.50,378.74 L220.00,378.88 L220.50,377.43 L221.00,378.42 L221.50,379.66 L222.00,381.23 L222.50,379.37 L223.00,378.06 L223.50,379.09 L224.00,378.59 L224.50,378.03 L225.00,378.60 L225.50,379.67 L226.00,379.39 L226.50,378.45 L227.00,377.41 L227.50,379.48 L228.00,380.58 L228.50,378.55 L229.00,378.07 L229.50,378.56 L230.00,378.78 L230.50,378.50 L231.00,378.34 L231.50,378.16 L232.00,378.29 L232.50,377.30 L233.00,378.24 L233.50,379.98 L234.00,376.33 L234.50,379.02 L235.00,379.19 L235.50,378.60 L236.00,378.86 L236.50,378.30 L237.00,379.01 L237.50,379.10 L238.00,379.18 L238.50,378.83 L239.00,380.46 L239.50,379.63 L240.00,378.99 L240.50,379.18 L241.00,378.60 L241.50,380.19 L242.00,379.17 L242.50,379.88 L243.00,378.71 L243.50,380.93 L244.00,378.18 L244.50,379.12 L245.00,378.25 L245.50,378.57 L246.00,379.57 L246.50,378.02 L247.00,379.03 L247.50,378.66 L248.00,379.90 L248.50,378.22 L249.00,379.04 L249.50,379.99 L250.00,379.56 L250.50,379.60 L251.00,381.58 L251.50,377.57 L252.00,379.53 L252.50,379.68 L253.00,379.69 L253.50,379.62 L254.00,378.21 L254.50,378.29 L255.00,379.75 L255.50,379.44 L256.00,378.94 L256.50,377.05 L257.00,379.34 L257.50,378.33 L258.00,379.69 L258.50,379.08 L259.00,379.84 L259.50,378.36 L260.00,379.29 L260.50,378.39 L261.00,379.77 L261.50,379.37 L262.00,378.87 L262.50,380.74 L263.00,379.49 L263.50,378.98 L264.00,379.88 L264.50,378.99 L265.00,380.34 L265.50,378.79 L266.00,381.01 L266.50,377.85 L267.00,379.35 L267.50,378.66 L268.00,378.84 L268.50,379.08 L269.00,377.52 L269.50,378.38 L270.00,377.92 L270.50,379.15 L271.00,378.28 L271.50,378.71 L272.00,378.45 L272.50,378.23 L273.00,379.78 L273.50,378.60 L274.00,378.76 L274.50,378.83 L275.00,379.08 L275.50,378.06 L276.00,377.30 L276.50,378.24 L277.00,377.59 L277.50,376.32 L278.00,379.08 L278.50,378.14 L279.00,377.79 L279.50,377.09 L280.00,378.17 L280.50,377.71 L281.00,377.00 L281.50,379.41 L282.00,378.76 L282.50,378.46 L283.00,377.90 L283.50,377.26 L284.00,376.86 L284.50,377.28 L285.00,376.32 L285.50,377.08 L286.00,375.71 L286.50,374.74 L287.00,377.02 L287.50,376.49 L288.00,376.98 L288.50,377.16 L289.00,377.33 L289.50,376.85 L290.00,377.37 L290.50,376.92 L291.00,377.79 L291.50,377.59 L292.00,375.32 L292.50,376.35 L293.00,376.56 L293.50,376.31 L294.00,376.11 L294.50,377.48 L295.00,375.01 L295.50,376.13 L296.00,377.12 L296.50,376.24 L297.00,376.33 L297.50,378.33 L298.00,377.30 L298.50,376.90 L299.00,376.31 L299.50,376.79 L300.00,379.08 L300.50,377.81 L301.00,376.29 L301.50,377.79 L302.00,377.41 L302.50,377.99 L303.00,377.45 L303.50,377.08 L304.00,376.10 L304.50,377.72 L305.00,378.82 L305.50,378.97 L306.00,378.37 L306.50,378.50 L307.00,377.58 L307.50,377.93 L308.00,379.03 L308.50,380.16 L309.00,378.06 L309.50,378.59 L310.00,379.28 L310.50,381.04 L311.00,377.85 L311.50,378.36 L312.00,378.02 L312.50,378.12 L313.00,378.12 L313.50,377.84 L314.00,376.32 L314.50,378.61 L315.00,378.46 L315.50,378.83 L316.00,377.52 L316.50,377.77 L317.00,378.32 L317.50,379.37 L318.00,378.17 L318.50,377.69 L319.00,378.33 L319.50,379.61 L320.00,378.97 L320.50,379.13 L321.00,378.12 L321.50,377.87 L322.00,379.00 L322.50,378.73 L323.00,378.93 L323.50,378.11 L324.00,377.94 L324.50,377.84 L325.00,379.02 L325.50,379.30 L326.00,378.09 L326.50,379.05 L327.00,378.12 L327.50,378.22 L328.00,378.36 L328.50,377.83 L329.00,377.94 L329.50,377.94 L330.00,377.93 L330.50,378.26 L331.00,377.29 L331.50,378.60 L332.00,377.49 L332.50,377.96 L333.00,378.17 L333.50,377.20 L334.00,377.76 L334.50,377.89 L335.00,377.82 L335.50,378.58 L336.00,378.13 L336.50,376.80 L337.00,378.17 L337.50,377.56 L338.00,377.69 L338.50,376.74 L339.00,377.30 L339.50,377.57 L340.00,377.74 L340.50,377.71 L341.00,376.65 L341.50,377.69 L342.00,377.10 L342.50,377.19 L343.00,377.59 L343.50,376.74 L344.00,377.83 L344.50,377.62 L345.00,377.35 L345.50,376.66 L346.00,376.85 L346.50,376.23 L347.00,377.24 L347.50,377.70 L348.00,376.20 L348.50,377.23 L349.00,377.13 L349.50,375.37 L350.00,377.88 L350.50,376.84 L351.00,376.52 L351.50,375.29 L352.00,377.35 L352.50,376.66 L353.00,376.91 L353.50,376.36 L354.00,377.04 L354.50,376.77 L355.00,377.45 L355.50,377.14 L356.00,377.25 L356.50,376.54 L357.00,375.77 L357.50,377.74 L358.00,378.10 L358.50,377.14 L359.00,378.00 L359.50,377.26 L360.00,377.09 L360.50,376.87 L361.00,376.78 L361.50,376.96 L362.00,376.52 L362.50,376.90 L363.00,377.00 L363.50,375.43 L364.00,376.86 L364.50,376.78 L365.00,377.38 L365.50,377.85 L366.00,377.55 L366.50,377.72 L367.00,377.75 L367.50,377.32 L368.00,377.64 L368.50,378.56 L369.00,379.26 L369.50,377.53 L370.00,376.02 L370.50,379.65 L371.00,378.92 L371.50,378.34 L372.00,378.77 L372.50,378.32 L373.00,379.14 L373.50,377.79 L374.00,378.13 L374.50,378.44 L375.00,377.72 L375.50,378.52 L376.00,377.84 L376.50,378.51 L377.00,378.73 L377.50,378.11 L378.00,380.42 L378.50,378.37 L379.00,378.61 L379.50,376.40 L380.00,377.36 L380.50,378.51 L381.00,379.43 L381.50,378.37 L382.00,379.19 L382.50,376.99 L383.00,379.07 L383.50,378.99 L384.00,378.37 L384.50,378.11 L385.00,378.50 L385.50,377.79 L386.00,378.43 L386.50,378.48 L387.00,378.25 L387.00,382.00Z" fill="#874c93"/>
<line x1="93.91" y1="33.3" x2="93.91" y2="382" stroke="#d0d0d0" stroke-opacity="0.45" stroke-width="1"/>
<line x1="116.53" y1="33.3" x2="116.53" y2="382" stroke="#d0d0d0" stroke-opacity="0.45" stroke-width="1"/>
<line x1="127.84" y1="33.3" x2="127.84" y2="382" stroke="#d0d0d0" stroke-opacity="0.45" stroke-width="1"/>
<line x1="139.15" y1="33.3" x2="139.15" y2="382" stroke="#d0d0d0" stroke-opacity="0.45" stroke-width="1"/>
<line x1="150.46" y1="33.3" x2="150.46" y2="382" stroke="#d0d0d0" stroke-opacity="0.45" stroke-width="1"/>
<line x1="173.08" y1="33.3" x2="173.08" y2="382" stroke="#d0d0d0" stroke-opacity="0.45" stroke-width="1"/>
<line x1="184.39" y1="33.3" x2="184.39" y2="382" stroke="#d0d0d0" stroke-opacity="0.45" stroke-width="1"/>
<line x1="195.70" y1="33.3" x2="195.70" y2="382" stroke="#d0d0d0" stroke-opacity="0.45" stroke-width="1"/>
<line x1="207.01" y1="33.3" x2="207.01" y2="382" stroke="#d0d0d0" stroke-opacity="0.45" stroke-width="1"/>
<line x1="229.63" y1="33.3" x2="229.63" y2="382" stroke="#d0d0d0" stroke-opacity="0.45" stroke-width="1"/>
<line x1="240.94" y1="33.3" x2="240.94" y2="382" stroke="#d0d0d0" stroke-opacity="0.45" stroke-width="1"/>
<line x1="252.26" y1="33.3" x2="252.26" y2="382" stroke="#d0d0d0" stroke-opacity="0.45" stroke-width="1"/>
<line x1="263.57" y1="33.3" x2="263.57" y2="382" stroke="#d0d0d0" stroke-opacity="0.45" stroke-width="1"/>
<line x1="286.19" y1="33.3" x2="286.19" y2="382" stroke="#d0d0d0" stroke-opacity="0.45" stroke-width="1"/>
<line x1="297.50" y1="33.3" x2="297.50" y2="382" stroke="#d0d0d0" stroke-opacity="0.45" stroke-width="1"/>
<line x1="308.81" y1="33.3" x2="308.81" y2="382" stroke="#d0d0d0" stroke-opacity="0.45" stroke-width="1"/>
<line x1="320.12" y1="33.3" x2="320.12" y2="382" stroke="#d0d0d0" stroke-opacity="0.45" stroke-width="1"/>
<line x1="342.74" y1="33.3" x2="342.74" y2="382" stroke="#d0d0d0" stroke-opacity="0.45" stroke-width="1"/>
<line x1="354.05" y1="33.3" x2="354.05" y2="382" stroke="#d0d0d0" stroke-opacity="0.45" stroke-width="1"/>
<line x1="365.36" y1="33.3" x2="365.36" y2="382" stroke="#d0d0d0" stroke-opacity="0.45" stroke-width="1"/>
<line x1="376.67" y1="33.3" x2="376.67" y2="382" stroke="#d0d0d0" stroke-opacity="0.45" stroke-width="1"/>
<line x1="399.29" y1="33.3" x2="399.29" y2="382" stroke="#d0d0d0" stroke-opacity="0.45" stroke-width="1"/>
<line x1="161.77" y1="33.3" x2="161.77" y2="382" stroke="#8a8a8a" stroke-width="1.5"/>
<line x1="218.32" y1="33.3" x2="218.32" y2="382" stroke="#8a8a8a" stroke-width="1.5"/>
<line x1="274.88" y1="33.3" x2="274.88" y2="382" stroke="#8a8a8a" stroke-width="1.5"/>
<line x1="331.43" y1="33.3" x2="331.43" y2="382" stroke="#8a8a8a" stroke-width="1.5"/>
<line x1="105.00" y1="33.3" x2="105.00" y2="382" stroke="#111" stroke-width="3.8"/>
<line x1="388.10" y1="33.3" x2="388.10" y2="382" stroke="#111" stroke-width="3.8"/>
</g>
<!-- group labels -->
<g font-family="Liberation Serif" font-size="21.9" stroke="#000" stroke-width="0.3">
<text transform="translate(99.5,122.8) rotate(-90)">Bimanual</text>
<text transform="translate(125.6,100.8) rotate(-90)">Dyadic</text>
<text transform="translate(406.2,122.8) rotate(-90)">Bimanual</text>
</g>
<rect x="193.5" y="37.2" width="189.3" height="131.1" rx="4" ry="4" fill="#fff" fill-opacity="0.8" stroke="#cfcfcf" stroke-width="2.4"/>
<rect x="197.1" y="48.60" width="55.1" height="10.6" fill="#440154"/>
<text x="263.6" y="61.30" font-family="Liberation Serif" font-size="22.2" stroke="#000" stroke-width="0.12">Opposed</text>
<rect x="197.1" y="79.75" width="55.1" height="10.6" fill="#31688e"/>
<text x="263.6" y="92.30" font-family="Liberation Serif" font-size="22.2" stroke="#000" stroke-width="0.12">Aligned</text>
<rect x="197.1" y="110.90" width="55.1" height="10.6" fill="#35b779"/>
<text x="263.6" y="123.30" font-family="Liberation Serif" font-size="22.2" stroke="#000" stroke-width="0.12">Single</text>
<rect x="197.1" y="142.05" width="55.1" height="10.6" fill="#fde725"/>
<text x="263.6" y="154.30" font-family="Liberation Serif" font-size="22.2" stroke="#000" stroke-width="0.12">Still</text>
<!-- panel a spines -->
<g stroke="#000" stroke-width="2" fill="none" stroke-linecap="butt">
<rect x="82.6" y="33.3" width="328" height="348.7"/>
</g>
<g stroke="#000" stroke-width="2">
<line x1="73" y1="382.00" x2="82.6" y2="382.00"/><line x1="73" y1="312.26" x2="82.6" y2="312.26"/><line x1="73" y1="242.52" x2="82.6" y2="242.52"/><line x1="73" y1="172.78" x2="82.6" y2="172.78"/><line x1="73" y1="103.04" x2="82.6" y2="103.04"/><line x1="73" y1="33.30" x2="82.6" y2="33.30"/>
<line x1="82.60" y1="382" x2="82.60" y2="391.8"/><line x1="105.22" y1="382" x2="105.22" y2="391.8"/><line x1="161.77" y1="382" x2="161.77" y2="391.8"/><line x1="218.32" y1="382" x2="218.32" y2="391.8"/><line x1="274.88" y1="382" x2="274.88" y2="391.8"/><line x1="331.43" y1="382" x2="331.43" y2="391.8"/><line x1="387.98" y1="382" x2="387.98" y2="391.8"/><line x1="410.60" y1="382" x2="410.60" y2="391.8"/>
</g>
<g font-family="Liberation Serif" font-size="28.2" fill="#000" stroke="#000" stroke-width="0.15">
<text x="63.4" y="391.80" text-anchor="end">0</text><text x="63.4" y="322.06" text-anchor="end">2</text><text x="63.4" y="252.32" text-anchor="end">4</text><text x="63.4" y="182.58" text-anchor="end">6</text><text x="63.4" y="112.84" text-anchor="end">8</text><text x="63.4" y="43.10" text-anchor="end">10</text>
<text x="70.0" y="420.5" text-anchor="middle">0</text>
<text x="104.9" y="420.5" text-anchor="middle">60</text>
<text x="161.8" y="420.5" text-anchor="middle">210</text>
<text x="218.4" y="420.5" text-anchor="middle">360</text>
<text x="275.3" y="420.5" text-anchor="middle">510</text>
<text x="331.5" y="420.5" text-anchor="middle">660</text>
<text x="380.4" y="420.5" text-anchor="middle">810</text>
<text x="427.7" y="420.5" text-anchor="middle">870</text>
<text x="246.9" y="456.6" text-anchor="middle">Trial</text>
<text transform="translate(35.4,207.8) rotate(-90)" text-anchor="middle" font-size="27.7">Completion Time (s)</text>
</g>
<text x="0.3" y="28.7" font-family="Liberation Sans" font-weight="bold" font-size="32.5">a</text>
<text x="428.9" y="28.2" font-family="Liberation Sans" font-weight="bold" font-size="32.5">b</text>
<rect x="518.95" y="223.30" width="26.2" height="158.70" fill="#135f66"/>
<rect x="551.70" y="229.10" width="26.2" height="152.90" fill="#8bbdb5"/>
<rect x="584.45" y="227.30" width="26.2" height="154.70" fill="#e1c5bd"/>
<rect x="617.20" y="228.50" width="26.2" height="153.50" fill="#d69a82"/>
<rect x="649.95" y="213.00" width="26.2" height="169.00" fill="#736a7a"/>
<line x1="532.05" y1="202.50" x2="532.05" y2="240.60" stroke="#424242" stroke-width="7.3"/>
<line x1="564.80" y1="213.60" x2="564.80" y2="242.70" stroke="#424242" stroke-width="7.3"/>
<line x1="597.55" y1="211.20" x2="597.55" y2="241.70" stroke="#424242" stroke-width="7.3"/>
<line x1="630.30" y1="214.00" x2="630.30" y2="242.40" stroke="#424242" stroke-width="7.3"/>
<line x1="663.05" y1="197.10" x2="663.05" y2="228.80" stroke="#424242" stroke-width="7.3"/>
<rect x="511" y="33.3" width="172.8" height="348.7" fill="none" stroke="#000" stroke-width="2"/>
<g stroke="#000" stroke-width="2"><line x1="501.2" y1="382.00" x2="511" y2="382.00"/><line x1="501.2" y1="312.26" x2="511" y2="312.26"/><line x1="501.2" y1="242.52" x2="511" y2="242.52"/><line x1="501.2" y1="172.78" x2="511" y2="172.78"/><line x1="501.2" y1="103.04" x2="511" y2="103.04"/><line x1="501.2" y1="33.30" x2="511" y2="33.30"/><line x1="532.05" y1="382" x2="532.05" y2="391.8"/><line x1="564.80" y1="382" x2="564.80" y2="391.8"/><line x1="597.55" y1="382" x2="597.55" y2="391.8"/><line x1="630.30" y1="382" x2="630.30" y2="391.8"/><line x1="663.05" y1="382" x2="663.05" y2="391.8"/></g>
<g font-family="Liberation Serif" font-size="28.2" stroke="#000" stroke-width="0.15"><text x="492.2" y="391.80" text-anchor="end">0</text><text x="492.2" y="322.06" text-anchor="end">2</text><text x="492.2" y="252.32" text-anchor="end">4</text><text x="492.2" y="182.58" text-anchor="end">6</text><text x="492.2" y="112.84" text-anchor="end">8</text><text x="492.2" y="43.10" text-anchor="end">10</text>
<text transform="translate(539.05,401.5) rotate(-90)" text-anchor="end">Full</text>
<text transform="translate(571.80,401.5) rotate(-90)" text-anchor="end">Partner</text>
<text transform="translate(604.55,401.5) rotate(-90)" text-anchor="end">Env.</text>
<text transform="translate(637.30,401.5) rotate(-90)" text-anchor="end">Without</text>
<text transform="translate(670.05,401.5) rotate(-90)" text-anchor="end">Unrelated</text>
<text transform="translate(459.3,199.8) rotate(-90)" text-anchor="middle" font-size="27.7">Completion Time (s)</text></g>
<path d="M532.5,159.8 V153.1 H630 V159.8 M565,153.1 V159.8 M597.6,153.1 V159.8" fill="none" stroke="#969696" stroke-width="2.2"/>
<path d="M581.6,152.5 V142.8 H663 V159.7" fill="none" stroke="#000" stroke-width="2.1"/>
<text x="622.2" y="142.0" text-anchor="middle" font-family="Liberation Serif" font-size="22">*</text>
</svg>
</body></html>
